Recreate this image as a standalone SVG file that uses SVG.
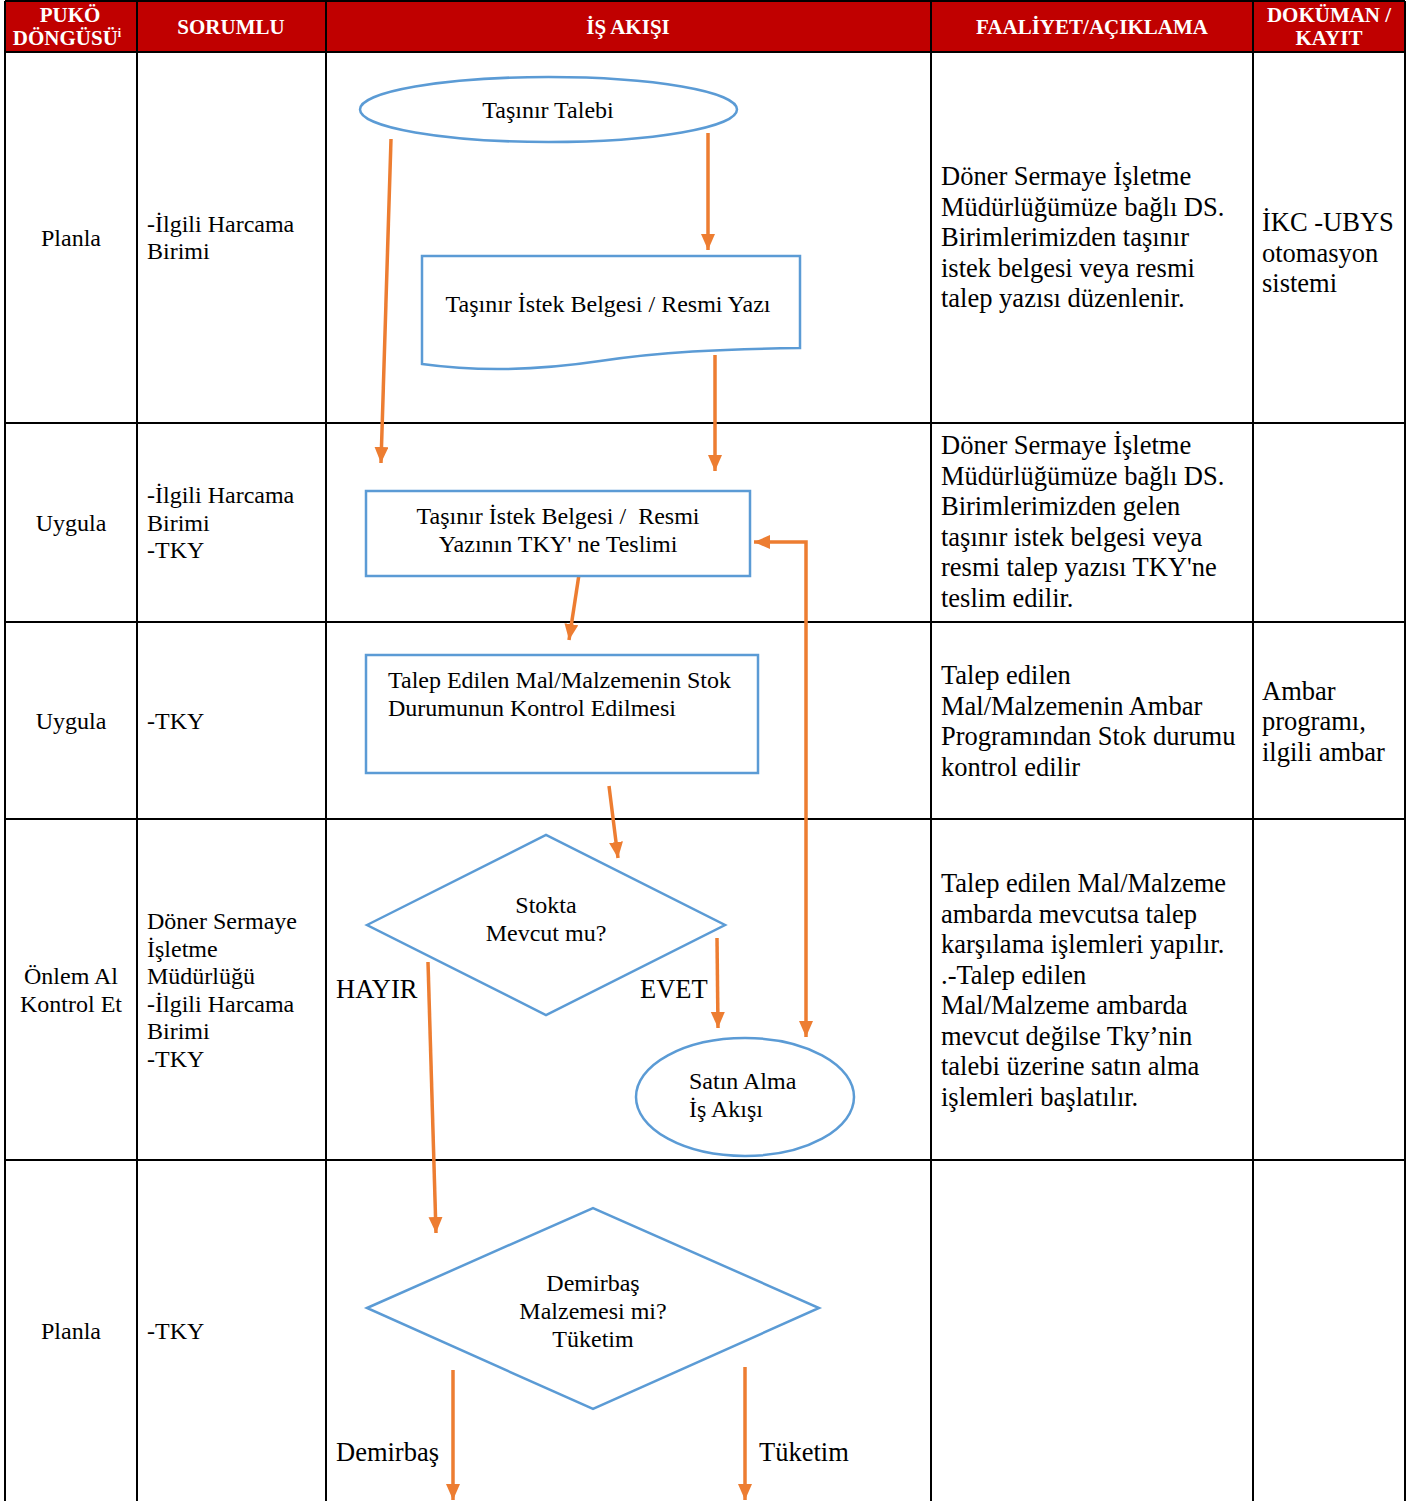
<svg xmlns="http://www.w3.org/2000/svg" width="1418" height="1501" viewBox="0 0 1418 1501">
<style>
.grid{stroke:#000;stroke-width:2;fill:none}
.hd{font-family:"Liberation Serif","Times New Roman",serif;font-weight:bold;font-size:21px;fill:#fff}
.t24{font-family:"Liberation Serif","Times New Roman",serif;font-size:24px;fill:#000}
.t26{font-family:"Liberation Serif","Times New Roman",serif;font-size:26.5px;fill:#000}
.shape{fill:#fff;stroke:#5B9BD5;stroke-width:2.5}
.arr{stroke:#ED7D31;stroke-width:3.5;fill:none;marker-end:url(#ah)}
</style>
<defs>
<marker id="ah" markerUnits="userSpaceOnUse" markerWidth="17" markerHeight="15" refX="16" refY="7" orient="auto-start-reverse">
<path d="M0,0 L16,7 L0,14 z" fill="#ED7D31"/>
</marker>
</defs>
<rect width="1418" height="1501" fill="#fff"/>
<g id="table">
<rect x="5" y="1" width="1400" height="51" fill="#C00000"/>
<path class="grid" d="M5,1 H1405 M5,52 H1405 M5,423 H1405 M5,622 H1405 M5,819 H1405 M5,1160 H1405 M5,1 V1501 M137,1 V1501 M326,1 V1501 M931,1 V1501 M1253,1 V1501 M1405,1 V1501"/>
</g>
<g id="header">
<text class="hd" x="70" y="22" text-anchor="middle">PUKÖ</text>
<text class="hd" x="67" y="45" text-anchor="middle">DÖNGÜSÜ<tspan font-size="12" dy="-8">i</tspan></text>
<text class="hd" x="231" y="34" text-anchor="middle">SORUMLU</text>
<text class="hd" x="628" y="34" text-anchor="middle">İŞ AKIŞI</text>
<text class="hd" x="1092" y="34" text-anchor="middle">FAALİYET/AÇIKLAMA</text>
<text class="hd" x="1329" y="22" text-anchor="middle">DOKÜMAN /</text>
<text class="hd" x="1329" y="45" text-anchor="middle">KAYIT</text>
</g>
<g id="puko">
<text class="t24" x="71" y="246" text-anchor="middle">Planla</text>
<text class="t24" x="71" y="531" text-anchor="middle">Uygula</text>
<text class="t24" x="71" y="729" text-anchor="middle">Uygula</text>
<text class="t24" x="71" y="984" text-anchor="middle">Önlem Al</text>
<text class="t24" x="71" y="1012" text-anchor="middle">Kontrol Et</text>
<text class="t24" x="71" y="1339" text-anchor="middle">Planla</text>
</g>
<g id="sorumlu">
<text class="t24" x="147" y="232">-İlgili Harcama</text>
<text class="t24" x="147" y="259">Birimi</text>
<text class="t24" x="147" y="503">-İlgili Harcama</text>
<text class="t24" x="147" y="531">Birimi</text>
<text class="t24" x="147" y="558">-TKY</text>
<text class="t24" x="147" y="729">-TKY</text>
<text class="t24" x="147" y="929">Döner Sermaye</text>
<text class="t24" x="147" y="957">İşletme</text>
<text class="t24" x="147" y="984">Müdürlüğü</text>
<text class="t24" x="147" y="1012">-İlgili Harcama</text>
<text class="t24" x="147" y="1039">Birimi</text>
<text class="t24" x="147" y="1067">-TKY</text>
<text class="t24" x="147" y="1339">-TKY</text>
</g>
<g id="aciklama">
<text class="t26" x="941" y="185">Döner Sermaye İşletme</text>
<text class="t26" x="941" y="215.5">Müdürlüğümüze bağlı DS.</text>
<text class="t26" x="941" y="246">Birimlerimizden taşınır</text>
<text class="t26" x="941" y="276.5">istek belgesi veya resmi</text>
<text class="t26" x="941" y="307">talep yazısı düzenlenir.</text>
<text class="t26" x="941" y="454">Döner Sermaye İşletme</text>
<text class="t26" x="941" y="484.5">Müdürlüğümüze bağlı DS.</text>
<text class="t26" x="941" y="515">Birimlerimizden gelen</text>
<text class="t26" x="941" y="545.5">taşınır istek belgesi veya</text>
<text class="t26" x="941" y="576">resmi talep yazısı TKY'ne</text>
<text class="t26" x="941" y="606.5">teslim edilir.</text>
<text class="t26" x="941" y="684">Talep edilen</text>
<text class="t26" x="941" y="714.5">Mal/Malzemenin Ambar</text>
<text class="t26" x="941" y="745">Programından Stok durumu</text>
<text class="t26" x="941" y="775.5">kontrol edilir</text>
<text class="t26" x="941" y="892">Talep edilen Mal/Malzeme</text>
<text class="t26" x="941" y="922.5">ambarda mevcutsa talep</text>
<text class="t26" x="941" y="953">karşılama işlemleri yapılır.</text>
<text class="t26" x="941" y="983.5">.-Talep edilen</text>
<text class="t26" x="941" y="1014">Mal/Malzeme ambarda</text>
<text class="t26" x="941" y="1044.5">mevcut değilse Tky’nin</text>
<text class="t26" x="941" y="1075">talebi üzerine satın alma</text>
<text class="t26" x="941" y="1105.5">işlemleri başlatılır.</text>
</g>
<g id="dokuman">
<text class="t26" x="1262" y="231">İKC -UBYS</text>
<text class="t26" x="1262" y="262">otomasyon</text>
<text class="t26" x="1262" y="292">sistemi</text>
<text class="t26" x="1262" y="700">Ambar</text>
<text class="t26" x="1262" y="730">programı,</text>
<text class="t26" x="1262" y="761">ilgili ambar</text>
</g>
<g id="connectors">
<line class="arr" x1="391" y1="139" x2="381" y2="463"/>
<line class="arr" x1="708" y1="133" x2="708" y2="250"/>
<line class="arr" x1="715" y1="355" x2="715" y2="471"/>
<line class="arr" x1="580" y1="568" x2="569" y2="640"/>
<line class="arr" x1="609" y1="786" x2="618" y2="858"/>
<line class="arr" x1="717" y1="938" x2="718" y2="1028"/>
<line class="arr" x1="428" y1="962" x2="436" y2="1233"/>
<path class="arr" stroke-width="4.5" d="M806,1037 L806,542 L754,542" style="marker-start:url(#ah)"/>
<line class="arr" x1="453" y1="1370" x2="453" y2="1500"/>
<line class="arr" x1="745" y1="1367" x2="745" y2="1500"/>
</g>
<g id="n-tasinir-talebi">
<ellipse class="shape" cx="548.5" cy="109.5" rx="188.5" ry="32.5"/>
<text class="t24" x="548" y="118" text-anchor="middle">Taşınır Talebi</text>
</g>
<g id="n-istek-belgesi">
<path class="shape" d="M422,256 H800 V348 C720,349 660,352 600,361 C540,370 480,372 422,364 Z"/>
<text class="t24" x="608" y="312" text-anchor="middle">Taşınır İstek Belgesi / Resmi Yazı</text>
</g>
<g id="n-teslim">
<rect class="shape" x="366" y="491" width="384" height="85"/>
<text class="t24" x="558" y="524" text-anchor="middle" xml:space="preserve">Taşınır İstek Belgesi /  Resmi</text>
<text class="t24" x="558" y="552" text-anchor="middle">Yazının TKY' ne Teslimi</text>
</g>
<g id="n-stok-kontrol">
<rect class="shape" x="366" y="655" width="392" height="118"/>
<text class="t24" x="388" y="688">Talep Edilen Mal/Malzemenin Stok</text>
<text class="t24" x="388" y="716">Durumunun Kontrol Edilmesi</text>
</g>
<g id="n-stokta-mevcut">
<path class="shape" d="M367,925 L546,835 L725,925 L546,1015 Z"/>
<text class="t24" x="546" y="913" text-anchor="middle">Stokta</text>
<text class="t24" x="546" y="941" text-anchor="middle">Mevcut mu?</text>
</g>
<g id="n-satin-alma">
<ellipse class="shape" cx="745" cy="1097" rx="109" ry="59"/>
<text class="t24" x="689" y="1089">Satın Alma</text>
<text class="t24" x="689" y="1117">İş Akışı</text>
</g>
<g id="n-demirbas">
<path class="shape" d="M367,1308 L593,1208 L819,1308 L593,1409 Z"/>
<text class="t24" x="593" y="1291" text-anchor="middle">Demirbaş</text>
<text class="t24" x="593" y="1319" text-anchor="middle">Malzemesi mi?</text>
<text class="t24" x="593" y="1347" text-anchor="middle">Tüketim</text>
</g>
<g id="labels">
<text class="t26" x="336" y="998">HAYIR</text>
<text class="t26" x="640" y="998">EVET</text>
<text class="t26" x="336" y="1461">Demirbaş</text>
<text class="t26" x="759" y="1461">Tüketim</text>
</g>
</svg>
